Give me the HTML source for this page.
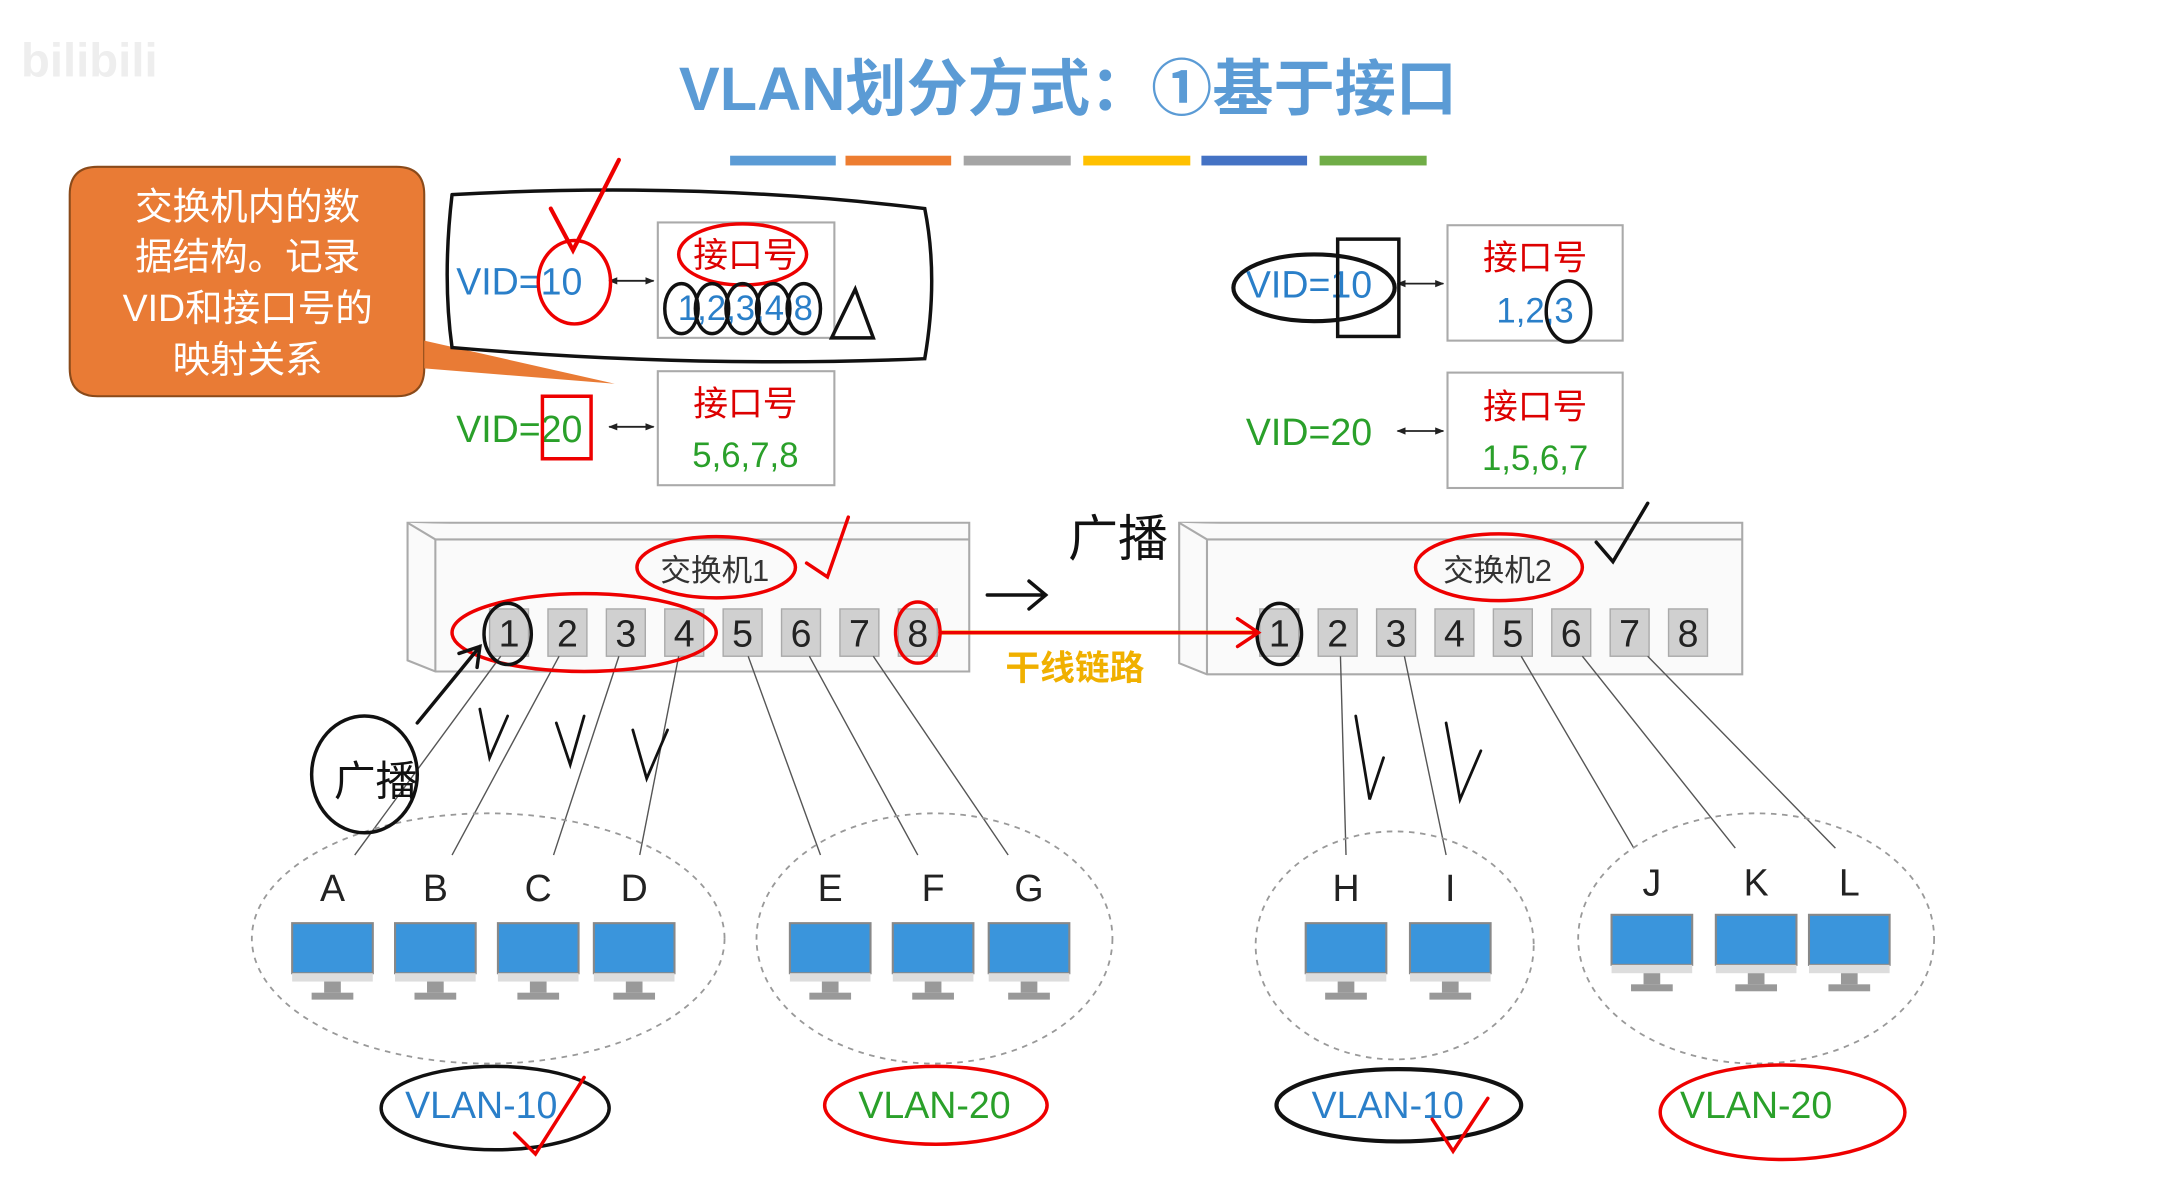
<!DOCTYPE html>
<html><head><meta charset="utf-8"><style>
html,body{margin:0;padding:0;background:#fff;}
svg{display:block;}
text{font-family:"Liberation Sans","Noto Sans CJK SC",sans-serif;}
</style></head><body>
<svg width="2179" height="1204" viewBox="0 0 1567 866" xmlns="http://www.w3.org/2000/svg">
<defs>
<g id="pc">
<rect x="0" y="0" width="58" height="36" fill="#3a95dc" stroke="#888" stroke-width="1.5"/>
<rect x="0" y="36" width="58" height="6" fill="#ddd"/>
<rect x="23" y="42" width="12" height="8" fill="#999"/>
<rect x="14" y="50" width="30" height="5" fill="#999"/>
</g>
<g id="port"><rect x="-14" y="0" width="28" height="34" fill="#d0d0d0" stroke="#aaa"/></g>
<marker id="ah" viewBox="0 0 10 10" refX="9" refY="5" markerWidth="5" markerHeight="5" orient="auto-start-reverse"><path d="M0 1 L10 5 L0 9 Z" fill="#222"/></marker>
</defs>
<text x="768" y="79" text-anchor="middle" font-size="44" font-weight="bold" fill="#5b9bd5">VLAN划分方式：①基于接口</text>
<rect x="525" y="112" width="76" height="7" fill="#5b9bd5"/>
<rect x="608" y="112" width="76" height="7" fill="#ed7d31"/>
<rect x="693" y="112" width="77" height="7" fill="#a5a5a5"/>
<rect x="779" y="112" width="77" height="7" fill="#ffc000"/>
<rect x="864" y="112" width="76" height="7" fill="#4472c4"/>
<rect x="949" y="112" width="77" height="7" fill="#70ad47"/>
<text x="15" y="55" font-size="34" fill="#eee" font-weight="bold">bilibili</text>

<path d="M70 120 H285 Q305 120 305 140 V265 Q305 285 285 285 H70 Q50 285 50 265 V140 Q50 120 70 120 Z" fill="#e97b35" stroke="#8a4a1a" stroke-width="1.5"/>
<path d="M305 245 L442 276 L305 265 Z" fill="#e97b35"/>
<g font-size="27" fill="#fff" text-anchor="middle">
<text x="178" y="158">交换机内的数</text>
<text x="178" y="194">据结构。记录</text>
<text x="178" y="231">VID和接口号的</text>
<text x="178" y="268">映射关系</text>
</g>

<g fill="#fff" stroke="#aaa" stroke-width="1.5">
<rect x="473" y="160" width="127" height="83"/><rect x="473" y="267" width="127" height="82"/>
<rect x="1041" y="162" width="126" height="83"/><rect x="1041" y="268" width="126" height="83"/>
</g>
<g font-size="25" text-anchor="middle">
<text x="536" y="192" fill="#d00">接口号</text><text x="536" y="230" fill="#2a7fc9">1,2,3,4,8</text>
<text x="536" y="299" fill="#d00">接口号</text><text x="536" y="336" fill="#2aa02a">5,6,7,8</text>
<text x="1104" y="194" fill="#d00">接口号</text><text x="1104" y="232" fill="#2a7fc9">1,2,3</text>
<text x="1104" y="301" fill="#d00">接口号</text><text x="1104" y="338" fill="#2aa02a">1,5,6,7</text>
</g>
<g font-size="27">
<text x="328" y="212" fill="#2a7fc9">VID=10</text>
<text x="328" y="318" fill="#2aa02a">VID=20</text>
<text x="896" y="214" fill="#2a7fc9">VID=10</text>
<text x="896" y="320" fill="#2aa02a">VID=20</text>
</g>
<g stroke="#222" stroke-width="1.3" marker-start="url(#ah)" marker-end="url(#ah)">
<line x1="438" y1="202" x2="470" y2="202"/><line x1="438" y1="307" x2="470" y2="307"/>
<line x1="1005" y1="204" x2="1038" y2="204"/><line x1="1005" y1="310" x2="1038" y2="310"/>
</g>

<g fill="#fafafa" stroke="#aaa" stroke-width="1.5">
<path d="M293 376 H697 V483 H313 L293 475 Z"/>
<path d="M293 376 L313 388 H697"/><line x1="313" y1="388" x2="313" y2="483"/>
<path d="M848 376 H1253 V485 H868 L848 477 Z"/>
<path d="M848 376 L868 388 H1253"/><line x1="868" y1="388" x2="868" y2="485"/>
</g>
<text x="514" y="418" text-anchor="middle" font-size="22" fill="#333">交换机1</text>
<text x="1077" y="418" text-anchor="middle" font-size="22" fill="#333">交换机2</text>
<g font-size="27" fill="#222" text-anchor="middle">
<use href="#port" x="366" y="438"/><text x="366" y="465">1</text>
<use href="#port" x="408" y="438"/><text x="408" y="465">2</text>
<use href="#port" x="450" y="438"/><text x="450" y="465">3</text>
<use href="#port" x="492" y="438"/><text x="492" y="465">4</text>
<use href="#port" x="534" y="438"/><text x="534" y="465">5</text>
<use href="#port" x="576" y="438"/><text x="576" y="465">6</text>
<use href="#port" x="618" y="438"/><text x="618" y="465">7</text>
<use href="#port" x="660" y="438"/><text x="660" y="465">8</text>
<use href="#port" x="920" y="438"/><text x="920" y="465">1</text>
<use href="#port" x="962" y="438"/><text x="962" y="465">2</text>
<use href="#port" x="1004" y="438"/><text x="1004" y="465">3</text>
<use href="#port" x="1046" y="438"/><text x="1046" y="465">4</text>
<use href="#port" x="1088" y="438"/><text x="1088" y="465">5</text>
<use href="#port" x="1130" y="438"/><text x="1130" y="465">6</text>
<use href="#port" x="1172" y="438"/><text x="1172" y="465">7</text>
<use href="#port" x="1214" y="438"/><text x="1214" y="465">8</text>
</g>
<line x1="675" y1="455" x2="905" y2="455" stroke="#f0c000" stroke-width="3"/>
<text x="773" y="489" text-anchor="middle" font-size="25" font-weight="bold" fill="#f0b000">干线链路</text>

<g stroke="#555" stroke-width="1">
<line x1="360" y1="472" x2="255" y2="615"/><line x1="402" y1="472" x2="325" y2="615"/>
<line x1="445" y1="472" x2="398" y2="615"/><line x1="488" y1="472" x2="460" y2="615"/>
<line x1="538" y1="472" x2="590" y2="615"/><line x1="582" y1="472" x2="660" y2="615"/>
<line x1="628" y1="472" x2="725" y2="615"/>
<line x1="964" y1="472" x2="968" y2="615"/><line x1="1010" y1="472" x2="1040" y2="615"/>
<line x1="1094" y1="472" x2="1175" y2="610"/><line x1="1138" y1="472" x2="1248" y2="610"/>
<line x1="1185" y1="472" x2="1320" y2="610"/>
</g>
<g fill="none" stroke="#999" stroke-width="1.3" stroke-dasharray="4 4">
<ellipse cx="351" cy="675" rx="170" ry="90"/>
<ellipse cx="672" cy="675" rx="128" ry="90"/>
<ellipse cx="1003" cy="680" rx="100" ry="82"/>
<ellipse cx="1263" cy="675" rx="128" ry="90"/>
</g>
<g font-size="27" fill="#222" text-anchor="middle">
<text x="239" y="648">A</text><text x="313" y="648">B</text><text x="387" y="648">C</text><text x="456" y="648">D</text>
<text x="597" y="648">E</text><text x="671" y="648">F</text><text x="740" y="648">G</text>
<text x="968" y="648">H</text><text x="1043" y="648">I</text>
<text x="1188" y="644">J</text><text x="1263" y="644">K</text><text x="1330" y="644">L</text>
</g>
<use href="#pc" x="210" y="664"/><use href="#pc" x="284" y="664"/><use href="#pc" x="358" y="664"/><use href="#pc" x="427" y="664"/>
<use href="#pc" x="568" y="664"/><use href="#pc" x="642" y="664"/><use href="#pc" x="711" y="664"/>
<use href="#pc" x="939" y="664"/><use href="#pc" x="1014" y="664"/>
<use href="#pc" x="1159" y="658"/><use href="#pc" x="1234" y="658"/><use href="#pc" x="1301" y="658"/>
<g font-size="27" text-anchor="middle">
<text x="346" y="804" fill="#2a7fc9">VLAN-10</text><text x="672" y="804" fill="#2aa02a">VLAN-20</text>
<text x="998" y="804" fill="#2a7fc9">VLAN-10</text><text x="1263" y="804" fill="#2aa02a">VLAN-20</text>
</g>

<g fill="none" stroke-linecap="round" stroke-width="2.5">
<path d="M325 140 Q500 130 665 150 Q675 200 665 258 Q500 265 325 250 Q318 200 325 140" stroke="#111"/>
<ellipse cx="413" cy="203" rx="26" ry="30" stroke="#e00"/>
<path d="M396 150 L412 180 L445 115" stroke="#e00" stroke-width="3"/>
<ellipse cx="534" cy="183" rx="46" ry="22" stroke="#e00"/>
<g stroke="#111"><ellipse cx="490" cy="222" rx="12" ry="18"/><ellipse cx="512" cy="222" rx="12" ry="18"/><ellipse cx="534" cy="222" rx="12" ry="18"/><ellipse cx="556" cy="222" rx="12" ry="18"/><ellipse cx="578" cy="222" rx="12" ry="18"/><path d="M598 243 L615 208 L628 243 Z"/></g>
<path d="M390 285 H425 V330 H390 Z" stroke="#e00"/>
<ellipse cx="945" cy="207" rx="58" ry="24" stroke="#111" stroke-width="3"/>
<rect x="962" y="172" width="44" height="70" stroke="#111"/>
<ellipse cx="1128" cy="224" rx="16" ry="22" stroke="#111"/>
<ellipse cx="515" cy="408" rx="57" ry="22" stroke="#e00"/>
<path d="M580 405 L595 415 L610 372" stroke="#e00"/>
<ellipse cx="1078" cy="408" rx="60" ry="24" stroke="#e00"/>
<path d="M1148 390 L1160 404 L1185 362" stroke="#111"/>
<ellipse cx="420" cy="455" rx="95" ry="28" stroke="#e00"/>
<ellipse cx="365" cy="456" rx="17" ry="22" stroke="#111"/>
<ellipse cx="660" cy="455" rx="16" ry="22" stroke="#e00"/>
<ellipse cx="920" cy="456" rx="16" ry="22" stroke="#111"/>
<path d="M676 455 L905 455 M890 445 L905 455 L890 465" stroke="#e00"/>
<path d="M710 428 L752 428 M740 418 L752 428 L740 438" stroke="#111"/>
<path d="M300 520 L345 465 M330 470 L345 465 L343 480" stroke="#111"/>
<ellipse cx="262" cy="557" rx="38" ry="42" stroke="#111"/>
<text x="240" y="572" font-size="30" fill="#111" stroke="none">广播</text>
<path d="M345 510 L352 545 L365 515 M400 520 L410 550 L420 515 M455 525 L465 560 L480 525 M975 515 L985 575 L995 545 M1040 520 L1050 575 L1065 540" stroke="#111" stroke-width="2"/>
<text x="768" y="400" font-size="36" fill="#111" stroke="none">广播</text>
<ellipse cx="356" cy="797" rx="82" ry="30" stroke="#111"/>
<path d="M370 815 L385 830 L420 775" stroke="#e00"/>
<ellipse cx="673" cy="795" rx="80" ry="28" stroke="#e00"/>
<ellipse cx="1006" cy="795" rx="88" ry="26" stroke="#111" stroke-width="3"/>
<path d="M1030 805 L1045 828 L1070 790" stroke="#e00"/>
<ellipse cx="1282" cy="800" rx="88" ry="34" stroke="#e00"/>
</g>
</svg>
</body></html>
